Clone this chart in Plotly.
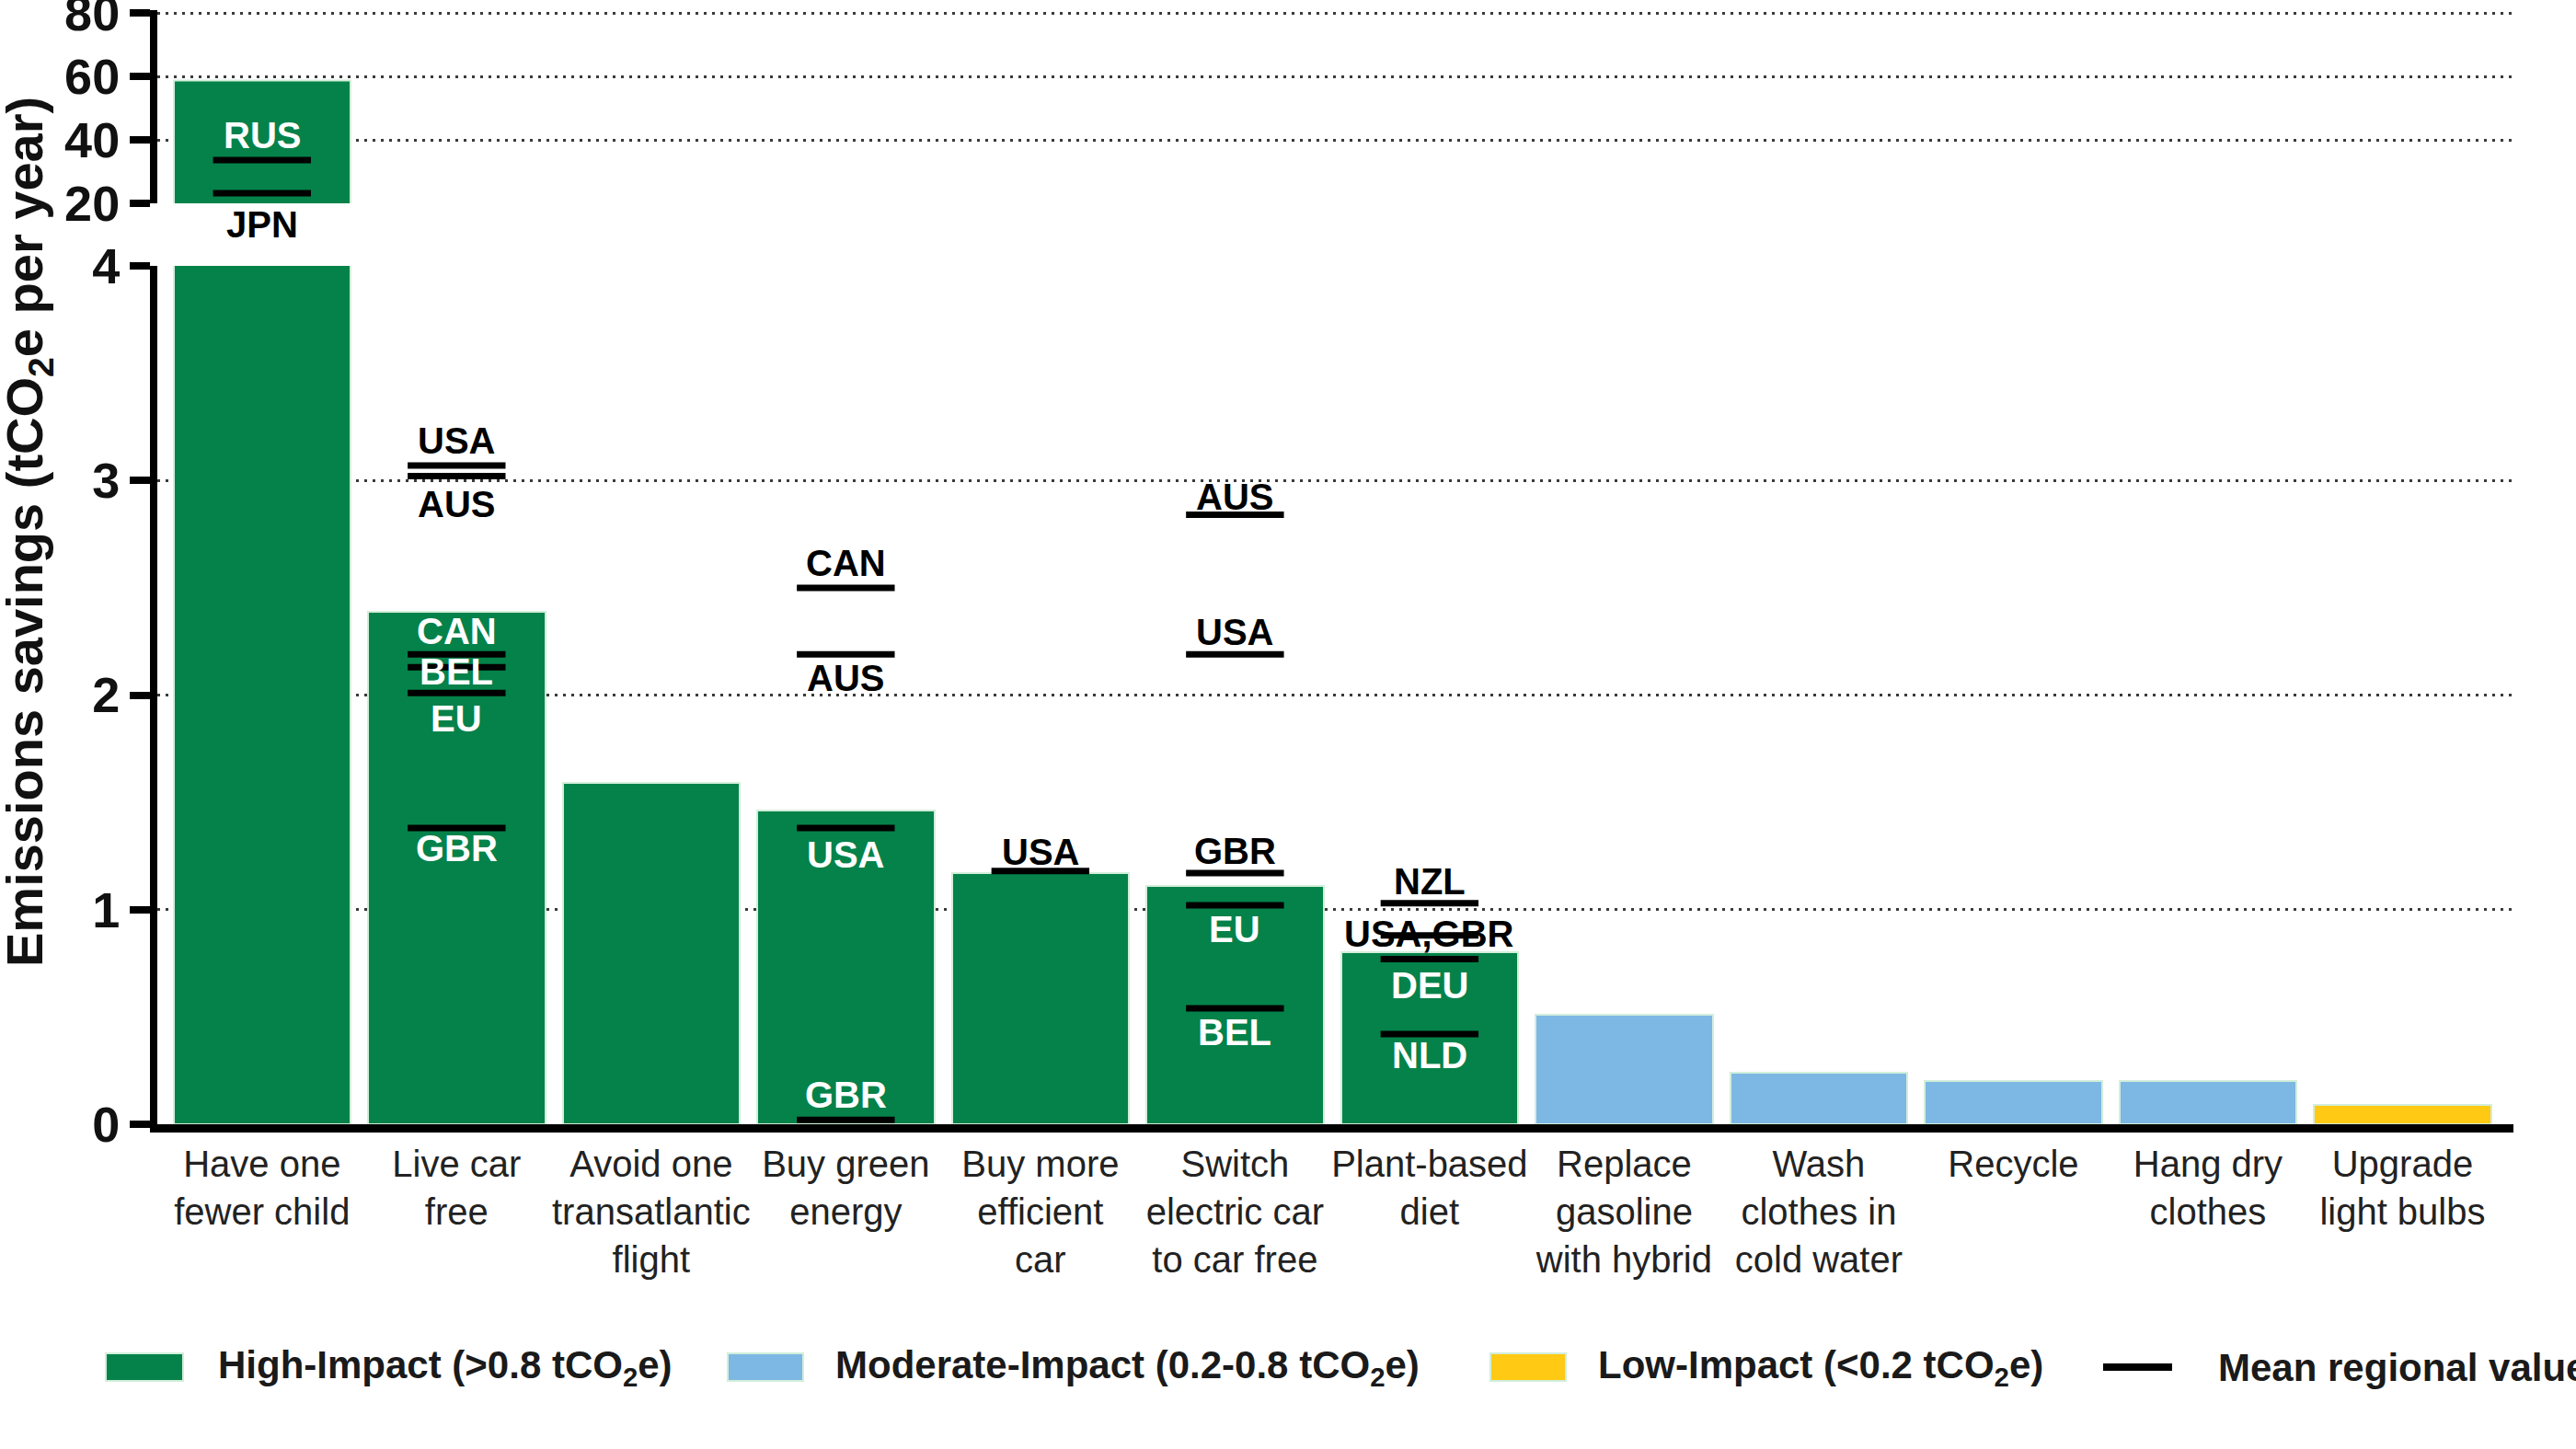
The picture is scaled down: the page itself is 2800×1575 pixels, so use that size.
import plotly.graph_objects as go

# ---------------- data ----------------
categories = [
    "Have one<br>fewer child", "Live car<br>free", "Avoid one<br>transatlantic<br>flight",
    "Buy green<br>energy", "Buy more<br>efficient<br>car", "Switch<br>electric car<br>to car free",
    "Plant-based<br>diet", "Replace<br>gasoline<br>with hybrid", "Wash<br>clothes in<br>cold water",
    "Recycle", "Hang dry<br>clothes", "Upgrade<br>light bulbs",
]
savings = [58.6, 2.39, 1.59, 1.46, 1.17, 1.11, 0.80, 0.51, 0.24, 0.20, 0.20, 0.09]
impact = ["High", "High", "High", "High", "High", "High", "High",
          "Moderate", "Moderate", "Moderate", "Moderate", "Low"]

region_bar = [0, 0, 1, 1, 1, 1, 1, 1, 3, 3, 3, 3, 4, 5, 5, 5, 5, 5, 6, 6, 6, 6]
region_name = ["RUS", "JPN", "USA", "AUS", "CAN", "BEL", "EU", "GBR",
               "CAN", "AUS", "USA", "GBR", "USA",
               "AUS", "USA", "GBR", "EU", "BEL",
               "NZL", "USA,GBR", "DEU", "NLD"]
region_value = [33.6, 23.2, 3.07, 3.02, 2.19, 2.13, 2.01, 1.38,
                2.50, 2.19, 1.38, 0.02, 1.18,
                2.84, 2.19, 1.17, 1.02, 0.54,
                1.03, 0.88, 0.77, 0.42]

top_ticks = [20, 40, 60, 80]
bottom_ticks = [0, 1, 2, 3, 4]

legend_labels = ["High-Impact (>0.8 tCO<sub>2</sub>e)", "Moderate-Impact (0.2-0.8 tCO<sub>2</sub>e)",
                 "Low-Impact (<0.2 tCO<sub>2</sub>e)", "Mean regional value"]

# ---------------- styles / layout ----------------
label_shift = [27, -34, 27, -30, 25, -5, -28, -22,
               27, -26, -29, 27, 21,
               20, 24, 24, -26, -26,
               24, 2, -29, -23]
impact_colors = {"High": "#04824A", "Moderate": "#7DB8E4", "Low": "#FFC914"}
W, H = 2800, 1575
X_LEFT, X_RIGHT = 171, 2732
Y0_BOT, Y4_BOT = 1222, 289
Y20_TOP, Y80_TOP = 221, 14
TOP_PAD = 1.0  # extra data units above 80 so the 80 tick stays inside the range
FONT = "Liberation Sans, Arial, sans-serif"
GRID = dict(showgrid=True, gridcolor="#3a3a3a", gridwidth=3, griddash="3px,6px")


def py(p):
    return 1 - p / H


bar_colors = [impact_colors[c] for c in impact]
n = len(categories)
xs = list(range(n))

fig = go.Figure()
for xa, ya in (("x", "y"), ("x2", "y2")):
    fig.add_trace(go.Bar(
        x=xs, y=savings, width=0.91, xaxis=xa, yaxis=ya, showlegend=False,
        marker=dict(color=bar_colors, line=dict(color="rgba(210,238,218,1)", width=2)),
    ))

bot = [i for i, v in enumerate(region_value) if v <= 4]
top = [i for i, v in enumerate(region_value) if v > 4]
mk = dict(symbol="line-ew", size=76, line=dict(width=7, color="black"))
fig.add_trace(go.Scatter(x=[region_bar[i] for i in bot], y=[region_value[i] for i in bot],
                         mode="markers", marker=mk, xaxis="x", yaxis="y",
                         showlegend=False, cliponaxis=False))
fig.add_trace(go.Scatter(x=[region_bar[i] for i in top], y=[region_value[i] for i in top],
                         mode="markers", marker=mk, xaxis="x2", yaxis="y2",
                         showlegend=False, cliponaxis=False))

annotations = []
ppu_bot = (Y0_BOT - Y4_BOT) / 4.0
ppu_top = (Y20_TOP - Y80_TOP) / 60.0
for i, name in enumerate(region_name):
    v = region_value[i]
    b = region_bar[i]
    if v <= 4:
        yref = "y"
        centre = v + label_shift[i] / ppu_bot
        inside = centre < savings[b]
    else:
        yref = "y2"
        centre = v + label_shift[i] / ppu_top
        inside = 20 < centre < savings[b]
    annotations.append(dict(
        x=b, y=v, xref="x", yref=yref, text=name, showarrow=False,
        yshift=label_shift[i], xanchor="center", yanchor="middle",
        font=dict(family=FONT, size=40, weight="bold", color="white" if inside else "black"),
    ))

# y-axis title
annotations.append(dict(
    x=30 / W, y=py(578), xref="paper", yref="paper", showarrow=False, textangle=-90,
    text="Emissions savings (tCO<sub>2</sub>e per year)", xanchor="center", yanchor="middle",
    font=dict(family=FONT, size=56, weight="bold", color="#111111"),
))

# manual legend
shapes = []
leg_y = 1486
box_x = [(115, 199), (791, 873), (1620, 1702)]
box_c = [impact_colors["High"], impact_colors["Moderate"], impact_colors["Low"]]
for (a, b), c in zip(box_x, box_c):
    shapes.append(dict(type="rect", xref="paper", yref="paper", x0=a / W, x1=b / W,
                       y0=py(leg_y + 15), y1=py(leg_y - 15), fillcolor=c,
                       line=dict(color="rgba(210,238,218,1)", width=2)))
shapes.append(dict(type="line", xref="paper", yref="paper", x0=2286 / W, x1=2361 / W,
                   y0=py(leg_y), y1=py(leg_y), line=dict(color="black", width=8)))
text_x = [235, 906, 1735, 2409]
for t, x in zip(legend_labels, text_x):
    annotations.append(dict(
        x=x / W, y=py(leg_y), xref="paper", yref="paper", text=t, showarrow=False,
        xanchor="left", yanchor="middle",
        font=dict(family=FONT, size=42, weight="bold", color="#1a1a1a"),
    ))

xdom = [X_LEFT / W, X_RIGHT / W]
xrange = [-0.538, 11.57]
yaxis_common = dict(
    showline=True, linewidth=8, linecolor="black", ticks="outside", ticklen=22,
    tickwidth=8, tickcolor="black", zeroline=False, fixedrange=True, automargin=False,
    ticklabeloverflow="allow",
    tickfont=dict(family=FONT, size=54, weight="bold", color="#111111"), **GRID,
)
top_y_top_px = Y80_TOP - TOP_PAD * ppu_top

fig.update_layout(
    width=W, height=H, margin=dict(l=0, r=0, t=0, b=0, autoexpand=False),
    paper_bgcolor="white", plot_bgcolor="white", bargap=0,
    xaxis=dict(domain=xdom, range=xrange, anchor="y", tickmode="array", tickvals=xs,
               ticktext=categories, showline=True, linewidth=9, linecolor="black",
               ticks="", showgrid=False, zeroline=False, ticklabelstandoff=0, automargin=False,
               ticklabeloverflow="allow",
               tickfont=dict(family=FONT, size=40, color="#222222")),
    xaxis2=dict(domain=xdom, range=xrange, anchor="y2", matches="x", visible=False,
                automargin=False),
    yaxis=dict(domain=[py(Y0_BOT), py(Y4_BOT)], range=[0, 4], anchor="x",
               tickmode="array", tickvals=bottom_ticks, **yaxis_common),
    yaxis2=dict(domain=[py(Y20_TOP), py(top_y_top_px)], range=[20, 80 + TOP_PAD], anchor="x2",
                tickmode="array", tickvals=top_ticks, **yaxis_common),
    annotations=annotations,
    shapes=shapes,
)

fig.write_html("out.html")
